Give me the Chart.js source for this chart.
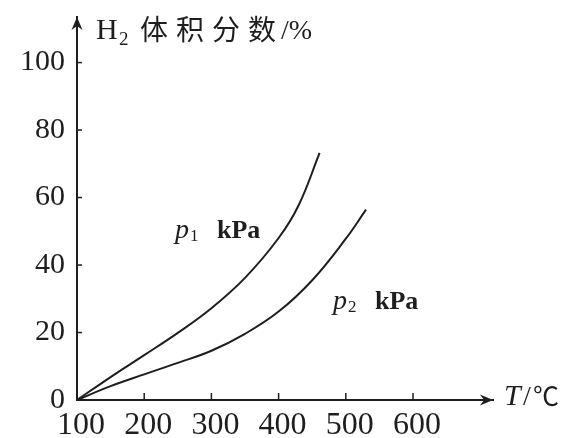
<!DOCTYPE html>
<html>
<head>
<meta charset="utf-8">
<script src="https://cdn.jsdelivr.net/npm/chart.js@4/dist/chart.umd.min.js"></script>
<style>
  html, body { margin: 0; padding: 0; background: #ffffff; }
  #wrap { width: 564px; height: 438px; }
</style>
</head>
<body>
<div id="wrap"><canvas id="c" width="564" height="438"></canvas></div>
<script>
// ---- data ----
const X_TICKS = [100, 200, 300, 400, 500, 600];      // T / ℃
const Y_TICKS = [0, 20, 40, 60, 80, 100];             // H2 volume fraction / %
const P1_T = [100, 150, 200, 250, 300, 350, 400, 430, 461];
const P1_H = [0, 6.8, 13.3, 19.9, 27.2, 36.2, 48, 57.8, 73.2];
const P2_T = [100, 150, 200, 250, 300, 350, 400, 450, 500, 530];
const P2_H = [0, 4.1, 7.6, 11.0, 14.6, 19.6, 26.2, 35.5, 47.8, 56.4];
const SERIES_LABELS = ['p1 kPa', 'p2 kPa'];
const X_MIN = 100, X_MAX = 719, Y_MIN = 0, Y_MAX = 113.5;

const INK = '#1e1e1e';
const SERIF = '"Liberation Serif", "Times New Roman", serif';
const CJK = '"Noto Sans CJK SC", "Noto Sans CJK JP", sans-serif';

function pts(xs, ys) { return xs.map((x, i) => ({ x: x, y: ys[i] })); }

const decor = {
  id: 'decor',
  afterDraw(chart) {
    const ctx = chart.ctx;
    const xs = chart.scales.x, ys = chart.scales.y;
    const ox = xs.getPixelForValue(X_MIN), oy = ys.getPixelForValue(Y_MIN);
    const xe = xs.getPixelForValue(X_MAX), ye = ys.getPixelForValue(Y_MAX);
    ctx.save();
    ctx.fillStyle = INK; ctx.strokeStyle = INK;
    function arrow(tx, ty, dx, dy) {
      const L = 13, W = 5.5, N = 9;
      const px = -dy, py = dx;
      ctx.beginPath();
      ctx.moveTo(tx, ty);
      ctx.lineTo(tx - dx * L + px * W, ty - dy * L + py * W);
      ctx.lineTo(tx - dx * N, ty - dy * N);
      ctx.lineTo(tx - dx * L - px * W, ty - dy * L - py * W);
      ctx.closePath();
      ctx.fill();
    }
    arrow(xe, oy, 1, 0);
    arrow(ox, ye, 0, -1);
    ctx.lineWidth = 1.5;
    X_TICKS.forEach(v => {
      if (v === X_MIN) return;
      const p = xs.getPixelForValue(v);
      ctx.beginPath(); ctx.moveTo(p, oy); ctx.lineTo(p, oy - 7); ctx.stroke();
    });
    Y_TICKS.forEach(v => {
      if (v === Y_MIN) return;
      const p = ys.getPixelForValue(v);
      ctx.beginPath(); ctx.moveTo(ox, p); ctx.lineTo(ox + 5, p); ctx.stroke();
    });
    ctx.textBaseline = 'alphabetic';
    ctx.textAlign = 'left';
    ctx.font = '30px ' + SERIF;
    ctx.fillText('H', 96, 39);
    ctx.font = '19px ' + SERIF;
    ctx.fillText('2', 119, 45);
    ctx.font = '28px ' + CJK;
    ctx.letterSpacing = '8px';
    ctx.fillText('体积分数', 140, 40);
    ctx.letterSpacing = '0px';
    ctx.font = '28px ' + SERIF;
    ctx.fillText('/%', 281, 39);
    ctx.font = 'italic 30px ' + SERIF;
    ctx.fillText('T', 504, 405);
    ctx.font = '28px ' + SERIF;
    ctx.fillText('/', 523, 405);
    ctx.font = '26px ' + CJK;
    ctx.fillText('℃', 533, 406);
    function plabel(x, y, sub) {
      ctx.font = 'italic 28px ' + SERIF;
      ctx.fillText('p', x, y);
      ctx.font = '17px ' + SERIF;
      ctx.fillText(sub, x + 15, y + 3);
      ctx.font = 'bold 26px ' + SERIF;
      ctx.fillText('kPa', x + 42, y);
    }
    plabel(175, 238, '1');
    plabel(333, 309, '2');
    ctx.restore();
  }
};

new Chart(document.getElementById('c'), {
  type: 'line',
  data: {
    datasets: [
      { label: SERIES_LABELS[0], data: pts(P1_T, P1_H) },
      { label: SERIES_LABELS[1], data: pts(P2_T, P2_H) }
    ]
  },
  options: {
    responsive: false,
    animation: false,
    devicePixelRatio: 1,
    layout: { padding: { top: 17, right: 71, left: 0, bottom: 0 } },
    elements: {
      line: { borderColor: INK, borderWidth: 2, tension: 0.4, fill: false },
      point: { radius: 0, hoverRadius: 0 }
    },
    plugins: { legend: { display: false }, tooltip: { enabled: false } },
    scales: {
      x: {
        type: 'linear', min: X_MIN, max: X_MAX,
        afterBuildTicks: s => { s.ticks = X_TICKS.map(v => ({ value: v })); },
        afterFit: s => { s.height = 38; s.paddingLeft = 0; s.paddingRight = 0; },
        grid: { display: false, drawTicks: false },
        border: { display: true, color: INK, width: 2 },
        ticks: { color: INK, font: { family: SERIF, size: 32 }, padding: 6, labelOffset: 4, maxRotation: 0, autoSkip: false }
      },
      y: {
        type: 'linear', min: Y_MIN, max: Y_MAX,
        afterBuildTicks: s => { s.ticks = Y_TICKS.map(v => ({ value: v })); },
        afterFit: s => { s.width = 77; s.paddingTop = 0; s.paddingBottom = 0; },
        grid: { display: false, drawTicks: false },
        border: { display: true, color: INK, width: 2 },
        ticks: { color: INK, font: { family: SERIF, size: 30 }, padding: 12, autoSkip: false }
      }
    }
  },
  plugins: [decor]
});
</script>
</body>
</html>
